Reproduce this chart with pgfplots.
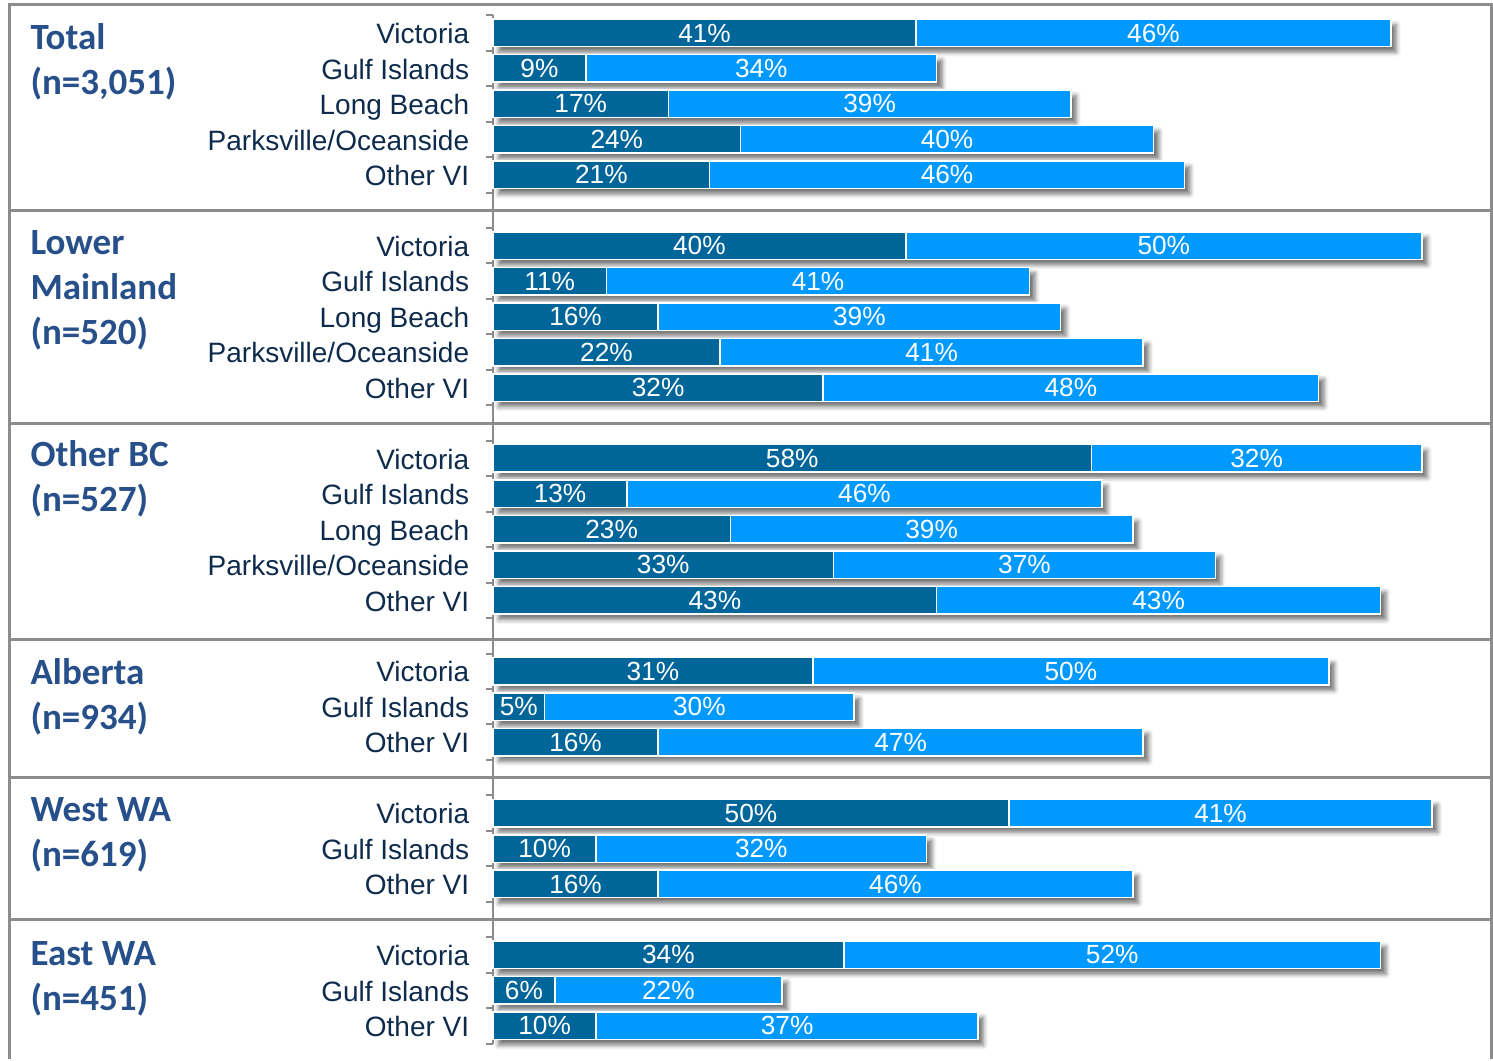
\documentclass[border=0pt]{standalone}
\usepackage{fontspec}
\setmainfont{Liberation Sans}
\newfontfamily\grp{Carlito}
\usepackage{pgfplots}
\usepackage{pgfplotstable}
\pgfplotsset{compat=1.18}
\usetikzlibrary{shadows.blur}
\definecolor{dk}{HTML}{006699}
\definecolor{lt}{HTML}{0099FF}
\definecolor{cat}{HTML}{0E2B4C}
\definecolor{grpc}{HTML}{27508A}
\definecolor{brd}{HTML}{8C8C8C}
\pgfplotstableread{
row a b
0 41 46
1 9 34
2 17 39
3 24 40
4 21 46
6 40 50
7 11 41
8 16 39
9 22 41
10 32 48
12 58 32
13 13 46
14 23 39
15 33 37
16 43 43
18 31 50
19 5 30
20 16 47
22 50 41
23 10 32
24 16 46
26 34 52
27 6 22
28 10 37
}\data
\begin{document}
\begin{tikzpicture}
\begin{axis}[
  scale only axis,
  width=399.2pt, height=411.3pt,
  xmin=0, xmax=96.71,
  ymin=-0.5, ymax=28.5,
  y dir=reverse,
  enlargelimits=false,
  clip=false,
  /pgf/number format/assume math mode=true,
  axis x line=none,
  axis y line*=left,
  axis line style={draw=brd, line width=0.8pt},
  xtick=\empty,
  ytick={0,1,2,3,4,6,7,8,9,10,12,13,14,15,16,18,19,20,22,23,24,26,27,28},
  yticklabels={Victoria,Gulf Islands,Long Beach,Parksville/Oceanside,Other VI,
    Victoria,Gulf Islands,Long Beach,Parksville/Oceanside,Other VI,
    Victoria,Gulf Islands,Long Beach,Parksville/Oceanside,Other VI,
    Victoria,Gulf Islands,Other VI,
    Victoria,Gulf Islands,Other VI,
    Victoria,Gulf Islands,Other VI},
  minor ytick={-0.5,0.5,...,28.5},
  tick align=outside,
  major tick length=0pt,
  minor tick length=2.8pt,
  minor tick style={draw=brd, line width=0.8pt},
  yticklabel style={font=\fontsize{11.2}{13}\selectfont, text=cat, xshift=-6pt, yshift=-0.7pt,
    text height=0.716em, text depth=0pt},
]
% frame
\draw[brd, line width=1.2pt] (axis cs:-46.8,28.93) -- (axis cs:-46.8,-0.79) -- (axis cs:96.71,-0.79) -- (axis cs:96.71,28.93);
\draw[brd, line width=1.2pt] (axis cs:-46.8,5) -- (axis cs:96.71,5);
\draw[brd, line width=1.2pt] (axis cs:-46.8,11) -- (axis cs:96.71,11);
\draw[brd, line width=1.2pt] (axis cs:-46.8,17.1) -- (axis cs:96.71,17.1);
\draw[brd, line width=1.2pt] (axis cs:-46.8,21) -- (axis cs:96.71,21);
\draw[brd, line width=1.2pt] (axis cs:-46.8,25) -- (axis cs:96.71,25);
\path (axis cs:-47.77,-0.93) rectangle (axis cs:96.9,28.93);
% bars
\addplot[xbar, bar shift=0pt, bar width=11pt, fill=lt, draw=white, line width=0.6pt,
  blur shadow={shadow xshift=2.2pt, shadow yshift=-2.2pt, shadow blur radius=1.8pt, shadow opacity=55}]
  table[x expr=\thisrow{a}+\thisrow{b}, y=row] {\data};
\addplot[xbar, bar shift=0pt, bar width=11pt, fill=dk, draw=white, line width=0.6pt]
  table[x=a, y=row] {\data};
% labels
\addplot[draw=none, mark=none, point meta=\thisrow{a},
  nodes near coords={\pgfmathprintnumber{\pgfplotspointmeta}\%},
  nodes near coords style={anchor=center, text=white, inner sep=0pt, font=\fontsize{10.5}{12}\selectfont}]
  table[x expr=\thisrow{a}/2, y=row] {\data};
\addplot[draw=none, mark=none, point meta=\thisrow{b},
  nodes near coords={\pgfmathprintnumber{\pgfplotspointmeta}\%},
  nodes near coords style={anchor=center, text=white, inner sep=0pt, font=\fontsize{10.5}{12}\selectfont}]
  table[x expr=\thisrow{a}+\thisrow{b}/2, y=row] {\data};
% group labels
\begin{scope}[every node/.style={anchor=base west, inner sep=0pt, text=grpc, font=\grp\bfseries\fontsize{14.8}{17}\selectfont}]
\node at (axis cs:-44.86,0.476) {Total};
\node at (axis cs:-44.86,1.746) {(n=3,051)};
\node at (axis cs:-44.86,6.256) {Lower};
\node at (axis cs:-44.86,7.526) {Mainland};
\node at (axis cs:-44.86,8.796) {(n=520)};
\node at (axis cs:-44.86,12.236) {Other BC};
\node at (axis cs:-44.86,13.506) {(n=527)};
\node at (axis cs:-44.86,18.386) {Alberta};
\node at (axis cs:-44.86,19.656) {(n=934)};
\node at (axis cs:-44.86,22.236) {West WA};
\node at (axis cs:-44.86,23.506) {(n=619)};
\node at (axis cs:-44.86,26.286) {East WA};
\node at (axis cs:-44.86,27.556) {(n=451)};
\end{scope}
\end{axis}
\end{tikzpicture}
\end{document}
